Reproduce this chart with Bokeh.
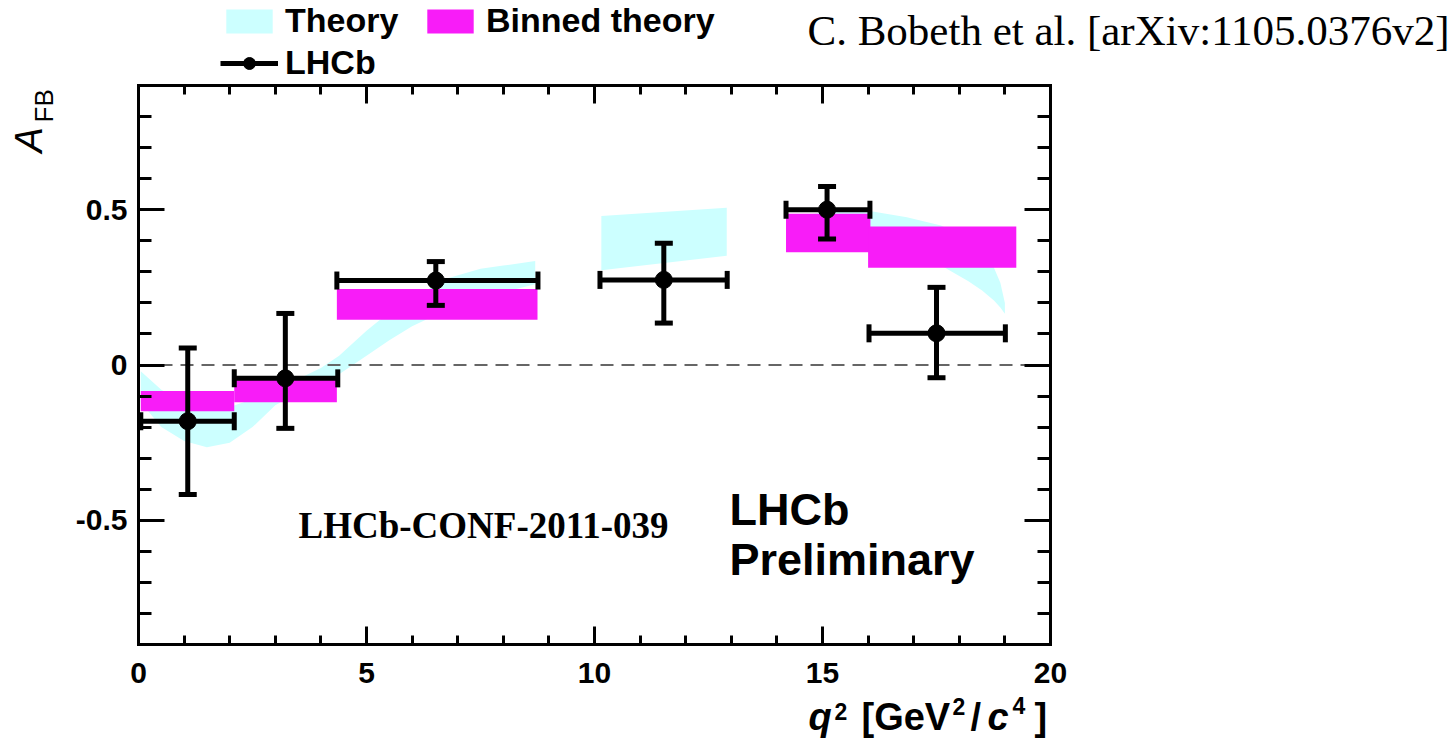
import math
from bokeh.plotting import figure
from bokeh.models import (Range1d, FixedTicker, LinearAxis, Label, Legend, LegendItem,
                          Whisker, TeeHead, ColumnDataSource, CustomJSTickFormatter)
from bokeh.embed import file_html
from bokeh.resources import INLINE

# ---------------- data ----------------
# Theory band (three q^2 regions): lower / upper edges of A_FB
theory_low_q2 = [0.05, 0.5, 1.0, 1.5, 2.0, 2.5, 3.0, 3.5, 4.0, 4.4, 5.0, 5.5, 6.0, 6.8, 7.5, 8.0, 8.7]
theory_low_lo = [-0.12, -0.20, -0.245, -0.265, -0.25, -0.20, -0.13, -0.09, -0.06, -0.03, 0.03, 0.08, 0.125, 0.18, 0.215, 0.235, 0.26]
theory_low_hi = [-0.02, -0.08, -0.12, -0.14, -0.135, -0.11, -0.08, -0.045, -0.01, 0.03, 0.11, 0.17, 0.215, 0.28, 0.31, 0.32, 0.335]

theory_mid_q2 = [10.15, 12.9]
theory_mid_lo = [0.305, 0.352]
theory_mid_hi = [0.48, 0.506]

theory_high_q2 = [14.2, 15.0, 16.0, 16.85, 17.6, 18.2, 18.5, 18.76, 18.9, 19.0]
theory_high_lo = [0.385, 0.40, 0.40, 0.375, 0.32, 0.27, 0.24, 0.208, 0.185, 0.165]
theory_high_hi = [0.475, 0.49, 0.497, 0.476, 0.449, 0.405, 0.37, 0.313, 0.265, 0.20]

# Binned theory
binned_q2_lo = [0.05, 2.1, 4.35, 14.2, 16.0]
binned_q2_hi = [2.1, 4.35, 8.75, 16.05, 19.25]
binned_afb_lo = [-0.149, -0.12, 0.146, 0.363, 0.313]
binned_afb_hi = [-0.084, -0.048, 0.245, 0.487, 0.446]

# LHCb measurements
lhcb_q2 = [1.08, 3.22, 6.52, 11.52, 15.1, 17.5]
lhcb_q2_lo = [0.05, 2.1, 4.35, 10.12, 14.2, 16.02]
lhcb_q2_hi = [2.1, 4.37, 8.76, 12.91, 16.04, 19.01]
lhcb_afb = [-0.181, -0.043, 0.272, 0.274, 0.50, 0.102]
lhcb_afb_lo = [-0.417, -0.204, 0.192, 0.135, 0.406, -0.041]
lhcb_afb_hi = [0.055, 0.166, 0.333, 0.392, 0.575, 0.25]

# axes limits and ticks
x_lim = [0, 20]
y_lim = [-0.9, 0.9]
zero_line_x = [0, 20]
zero_line_y = [0, 0]
x_major_ticks = [0, 5, 10, 15, 20]
x_minor_ticks = [1, 2, 3, 4, 6, 7, 8, 9, 11, 12, 13, 14, 16, 17, 18, 19]
y_major_ticks = [-0.5, 0, 0.5]
y_minor_ticks = [-0.9, -0.8, -0.7, -0.6, -0.4, -0.3, -0.2, -0.1,
                 0.1, 0.2, 0.3, 0.4, 0.6, 0.7, 0.8, 0.9]

CYAN = "#ccffff"
MAGENTA = "#f81cf8"
SANS = "Liberation Sans"
SERIF = "Liberation Serif"

# ---------------- figure (frame = whole page, box drawn by fixed axes) ----------------
W, H = 1450, 742
BOX_L, BOX_R, BOX_T, BOX_B = 138, 1050, 85, 644
px_per_x = (BOX_R - BOX_L) / (x_lim[1] - x_lim[0])
px_per_y = (BOX_B - BOX_T) / (y_lim[1] - y_lim[0])
xr = Range1d(x_lim[0] - BOX_L / px_per_x, x_lim[1] + (W - BOX_R) / px_per_x)
yr = Range1d(y_lim[0] - (H - BOX_B) / px_per_y, y_lim[1] + BOX_T / px_per_y)

p = figure(width=W, height=H, x_range=xr, y_range=yr,
           output_backend="svg", toolbar_location=None, min_border=0,
           x_axis_location=None, y_axis_location=None)
p.outline_line_color = None
p.background_fill_color = "white"
p.border_fill_color = "white"
for g in p.grid:
    g.visible = False

def add_axis(place, ticker, maj, mnr, loc, bounds, labels):
    ax = LinearAxis(ticker=ticker, fixed_location=loc, bounds=tuple(bounds),
                    axis_line_color="black", axis_line_width=3, axis_line_cap="square",
                    major_tick_in=maj, major_tick_out=0, minor_tick_in=mnr, minor_tick_out=0,
                    major_tick_line_width=3, minor_tick_line_width=3,
                    major_tick_line_color="black", minor_tick_line_color="black",
                    major_label_text_font=SANS, major_label_text_font_style="bold",
                    major_label_text_color="black", major_label_text_font_size="30px")
    if not labels:
        ax.formatter = CustomJSTickFormatter(code="return ''")
    p.add_layout(ax, place)
    return ax

xt = FixedTicker(ticks=x_major_ticks, minor_ticks=x_minor_ticks)
yt = FixedTicker(ticks=y_major_ticks, minor_ticks=y_minor_ticks)
bx = add_axis("below", xt, 18, 9, y_lim[0], x_lim, True)
bx.major_label_standoff = 18
add_axis("above", xt, 18, 9, y_lim[1], x_lim, False)
ly = add_axis("left", yt, 26, 13, x_lim[0], y_lim, True)
ly.major_label_standoff = 11
ly.formatter = CustomJSTickFormatter(code="return String(tick)")
add_axis("right", yt, 26, 13, x_lim[1], y_lim, False)

# ---------------- glyphs ----------------
th1 = p.varea(x=theory_low_q2, y1=theory_low_lo, y2=theory_low_hi, fill_color=CYAN)
p.varea(x=theory_mid_q2, y1=theory_mid_lo, y2=theory_mid_hi, fill_color=CYAN)
p.varea(x=theory_high_q2, y1=theory_high_lo, y2=theory_high_hi, fill_color=CYAN)

bins = p.quad(left=binned_q2_lo, right=binned_q2_hi, bottom=binned_afb_lo, top=binned_afb_hi,
              fill_color=MAGENTA, line_color=None)

p.line(x=zero_line_x, y=zero_line_y, line_color="#666666", line_dash="13 8", line_width=2)

src = ColumnDataSource(dict(x=lhcb_q2, y=lhcb_afb, xlo=lhcb_q2_lo, xhi=lhcb_q2_hi,
                            ylo=lhcb_afb_lo, yhi=lhcb_afb_hi))
def tee():
    return TeeHead(size=18, line_width=5, line_color="black")
wy = Whisker(base="x", lower="ylo", upper="yhi", dimension="height", source=src,
             line_width=5, line_color="black", level="overlay",
             upper_head=tee(), lower_head=tee())
wx = Whisker(base="y", lower="xlo", upper="xhi", dimension="width", source=src,
             line_width=5, line_color="black", level="overlay",
             upper_head=tee(), lower_head=tee())
p.add_layout(wy)
p.add_layout(wx)
pts = p.scatter(x="x", y="y", source=src, size=17, color="black")
# legend-only line (no drawable points)
legend_line = p.line(x=[float("nan")], y=[float("nan")], line_color="black", line_width=5)

# ---------------- legend ----------------
legend = Legend(items=[LegendItem(label="Theory", renderers=[th1]),
                       LegendItem(label="Binned theory", renderers=[bins]),
                       LegendItem(label="LHCb", renderers=[legend_line, pts])],
                orientation="horizontal", ncols=2,
                location=(220, H - 82),
                glyph_width=58, glyph_height=30, label_standoff=7, label_width=133,
                label_height=30, spacing=3, padding=0, margin=0,
                label_text_font=SANS, label_text_font_style="bold",
                label_text_font_size="34px", label_text_color="black",
                border_line_color=None, background_fill_alpha=0)
p.add_layout(legend)

# ---------------- texts ----------------
K = 0.38  # compensation: rendered alphabetic baseline sits ~0.38*size lower

def lab(text, X, Y, size, font=SANS, style="bold", angle=0.0):
    s = float(size.replace("px", ""))
    if angle == 0.0:
        Y = Y - K * s
    else:
        X = X - K * s
    p.add_layout(Label(x=X, y=H - Y, x_units="screen", y_units="screen", text=text,
                       text_font=font, text_font_style=style, text_font_size=size,
                       text_color="black", text_align="left", text_baseline="alphabetic",
                       angle=angle))

lab("C. Bobeth et al. [arXiv:1105.0376v2]", 807, 46, "43px", font=SERIF, style="normal")
lab("LHCb-CONF-2011-039", 298, 539, "37px", font=SERIF, style="bold")
lab("LHCb", 729, 526, "45px")
lab("Preliminary", 729, 576, "45px")

# x-axis title: q^2 [GeV^2/c^4]
lab("q", 808, 731, "38px", style="bold italic")
lab("2", 834, 720, "23px")
lab("[GeV", 861, 731, "38px")
lab("2", 952, 715, "23px")
lab("/", 970, 731, "38px")
lab("c", 987, 731, "38px", style="bold italic")
lab("4", 1012, 714, "23px")
lab("]", 1034, 731, "38px")

# y-axis title: A_FB (rotated)
lab("A", 43, 152, "38px", style="italic", angle=math.pi / 2)
lab("FB", 53, 122, "26px", style="normal", angle=math.pi / 2)

open("out.html", "w").write(file_html(p, INLINE))
